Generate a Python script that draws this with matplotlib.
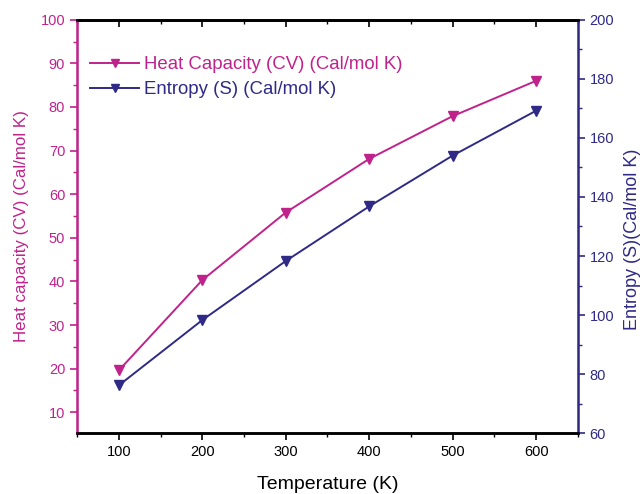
"""Heat capacity and entropy versus temperature, twin y axes."""

import matplotlib
matplotlib.use("Agg")
import matplotlib.pyplot as plt
from matplotlib.ticker import MultipleLocator

plt.rcParams["font.family"] = ["Liberation Sans", "DejaVu Sans"]

temperature = [100, 200, 300, 400, 500, 600]
heat_capacity = [19.6, 40.3, 55.8, 68.1, 77.9, 86.0]
entropy = [76.2, 98.3, 118.3, 136.8, 154.0, 169.2]

CV_COLOR = "#C0228C"
S_COLOR = "#2E2A86"

fig = plt.figure(figsize=(6.42, 4.94), dpi=100)
ax = fig.add_axes([0.12, 0.123, 0.78, 0.837])
ax2 = ax.twinx()

(cv_line,) = ax.plot(temperature, heat_capacity, color=CV_COLOR, lw=1.4,
                     marker="v", markersize=7.5, label="Heat Capacity (CV) (Cal/mol K)")
(s_line,) = ax2.plot(temperature, entropy, color=S_COLOR, lw=1.4,
                     marker="v", markersize=7.5, label="Entropy (S) (Cal/mol K)")

ax.set_xlim(50, 650)
ax.set_ylim(5.2, 100)
ax2.set_ylim(60, 200)

ax.xaxis.set_major_locator(MultipleLocator(100))
ax.xaxis.set_minor_locator(MultipleLocator(50))
ax.yaxis.set_major_locator(MultipleLocator(10))
ax.yaxis.set_minor_locator(MultipleLocator(5))
ax2.yaxis.set_major_locator(MultipleLocator(20))
ax2.yaxis.set_minor_locator(MultipleLocator(10))

# bottom ticks outward, top ticks inward
ax.tick_params(axis="x", which="both", direction="out", top=False, labelsize=10.5)
ax.tick_params(axis="x", which="major", length=5, width=1.2)
ax.tick_params(axis="x", which="minor", length=3, width=1.0)
top = ax.secondary_xaxis("top")
top.xaxis.set_major_locator(MultipleLocator(100))
top.xaxis.set_minor_locator(MultipleLocator(50))
top.tick_params(axis="x", which="both", direction="in", labeltop=False)
top.tick_params(axis="x", which="major", length=5, width=1.2)
top.tick_params(axis="x", which="minor", length=3, width=1.0)
top.spines["top"].set_linewidth(1.8)

ax.tick_params(axis="y", which="major", length=5, width=1.2, colors=CV_COLOR, labelsize=10.5)
ax.tick_params(axis="y", which="minor", length=3, width=1.0, colors=CV_COLOR)
ax2.tick_params(axis="y", which="major", length=5, width=1.2, colors=S_COLOR, labelsize=10.5)
ax2.tick_params(axis="y", which="minor", length=3, width=1.0, colors=S_COLOR)

for a in (ax, ax2):
    a.spines["top"].set_linewidth(1.8)
    a.spines["bottom"].set_linewidth(1.8)
ax2.spines["left"].set_color(CV_COLOR)
ax2.spines["left"].set_linewidth(1.8)
ax2.spines["right"].set_color(S_COLOR)
ax2.spines["right"].set_linewidth(1.8)

ax.set_xlabel("Temperature (K)", fontsize=14, labelpad=12)
ax.set_ylabel("Heat capacity (CV) (Cal/mol K)", fontsize=12.2, color=CV_COLOR)
ax.yaxis.set_label_coords(-0.095, 0.5)
ax2.set_ylabel("Entropy (S)(Cal/mol K)", fontsize=13)
ax2.yaxis.label.set_color(S_COLOR)
ax2.yaxis.set_label_coords(1.092, 0.47)

leg = ax.legend(handles=[cv_line, s_line], loc="upper left", frameon=False,
                fontsize=13.4, handlelength=2.6, handletextpad=0.27, labelspacing=0.42,
                markerscale=0.75, borderaxespad=0.0, bbox_to_anchor=(0.012, 0.93))
for text, color in zip(leg.get_texts(), (CV_COLOR, S_COLOR)):
    text.set_color(color)

fig.savefig("out.png", dpi=100)
